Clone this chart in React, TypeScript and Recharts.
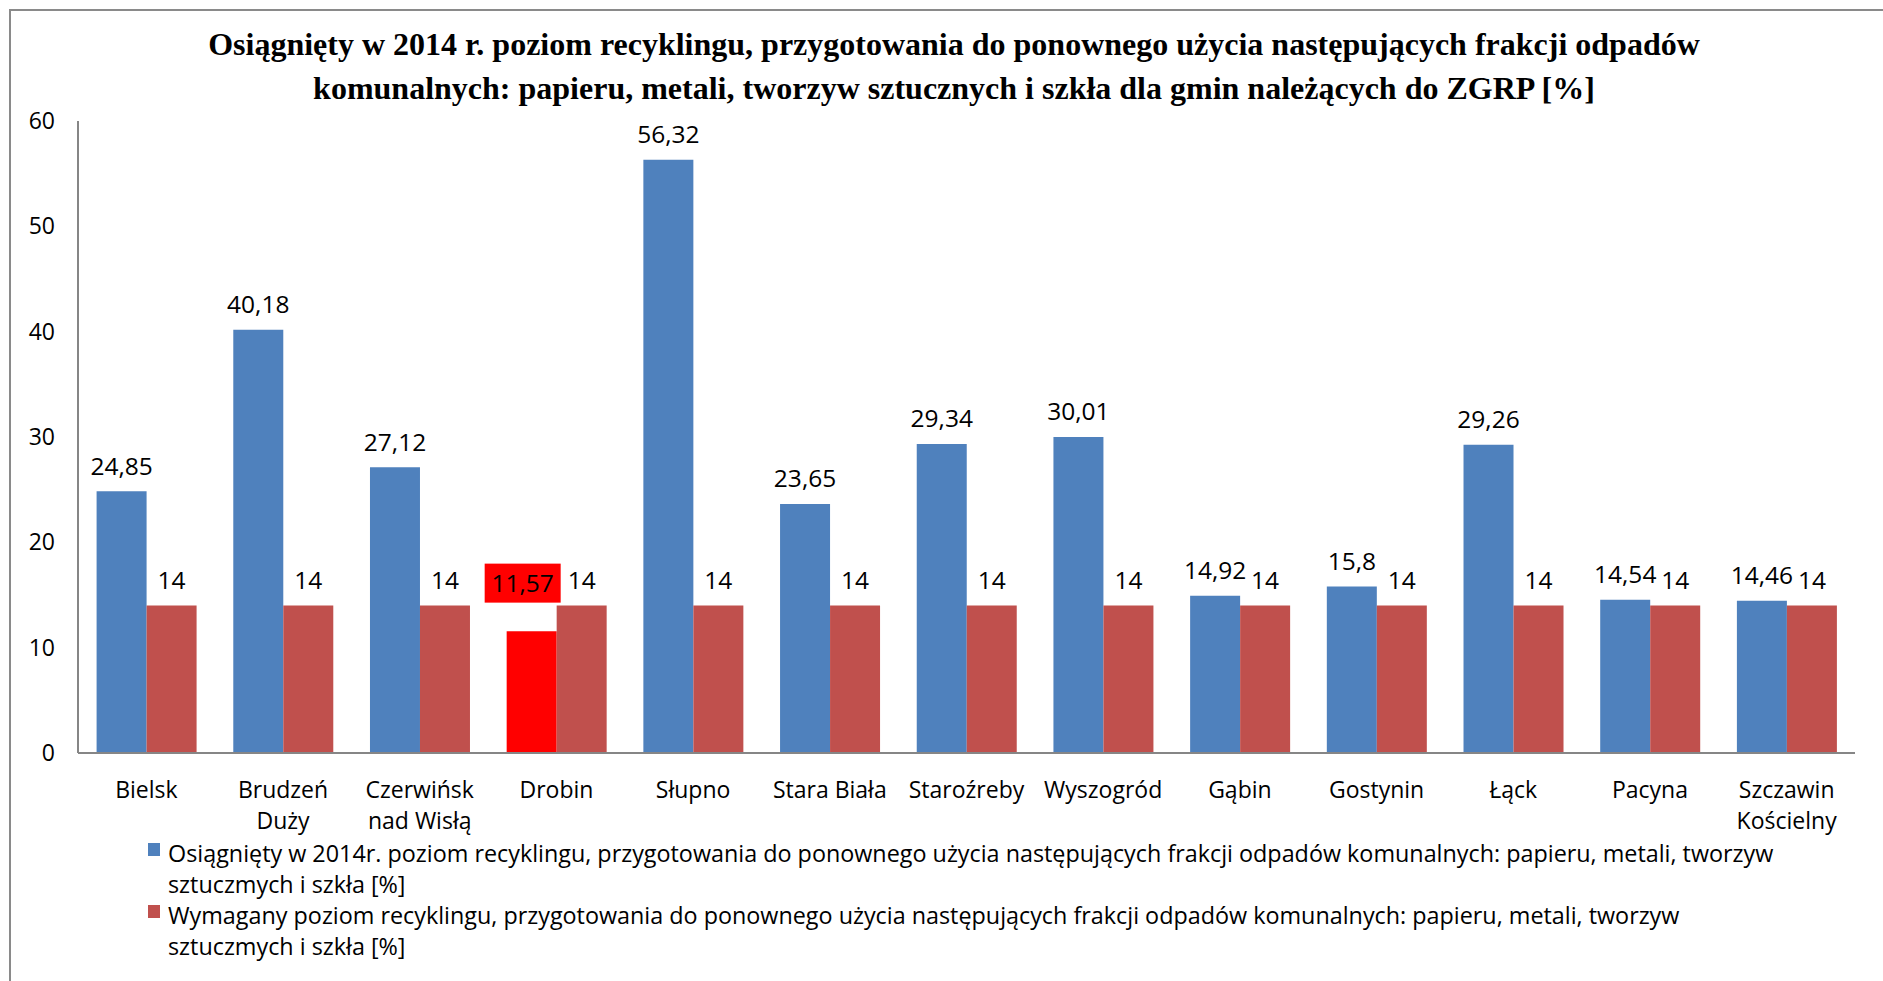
import React from 'react';
import { BarChart, Bar, XAxis, YAxis, Cell, LabelList, Legend } from 'recharts';

const CATEGORIES = [
  'Bielsk', 'Brudzeń Duży', 'Czerwińsk nad Wisłą', 'Drobin', 'Słupno', 'Stara Biała',
  'Staroźreby', 'Wyszogród', 'Gąbin', 'Gostynin', 'Łąck', 'Pacyna', 'Szczawin Kościelny',
];
const TICK_LABELS = [
  ['Bielsk'], ['Brudzeń', 'Duży'], ['Czerwińsk', 'nad Wisłą'], ['Drobin'], ['Słupno'], ['Stara Biała'],
  ['Staroźreby'], ['Wyszogród'], ['Gąbin'], ['Gostynin'], ['Łąck'], ['Pacyna'], ['Szczawin', 'Kościelny'],
];
const ACHIEVED = [24.85, 40.18, 27.12, 11.57, 56.32, 23.65, 29.34, 30.01, 14.92, 15.8, 29.26, 14.54, 14.46];
const REQUIRED = [14, 14, 14, 14, 14, 14, 14, 14, 14, 14, 14, 14, 14];
const Y_TICKS = [0, 10, 20, 30, 40, 50, 60];
const HIGHLIGHT_CATEGORY = 'Drobin';

const TITLE_LINES = [
  'Osiągnięty w 2014 r. poziom recyklingu, przygotowania do ponownego użycia następujących frakcji odpadów',
  'komunalnych: papieru, metali, tworzyw sztucznych i szkła dla gmin należących do ZGRP [%]',
];
const LEGEND_LINES_ACHIEVED = [
  'Osiągnięty w 2014r. poziom recyklingu, przygotowania do ponownego użycia następujących frakcji odpadów komunalnych: papieru, metali, tworzyw',
  'sztuczmych i szkła [%]',
];
const LEGEND_LINES_REQUIRED = [
  'Wymagany poziom recyklingu, przygotowania do ponownego użycia następujących frakcji odpadów komunalnych: papieru, metali, tworzyw',
  'sztuczmych i szkła [%]',
];
const SERIES_ACHIEVED = LEGEND_LINES_ACHIEVED.join(' ');
const SERIES_REQUIRED = LEGEND_LINES_REQUIRED.join(' ');

const BLUE = '#4F81BD';
const RED = '#C0504D';
const HIGHLIGHT = '#FF0000';
const AXIS = '#868686';
const FONT = '"Open Sans", sans-serif';
const FS = 23;
const LABEL_FS = 24.5;
const LEGEND_FS = 23.35;

const data = CATEGORIES.map((c, i) => ({ name: c, achieved: ACHIEVED[i], required: REQUIRED[i] }));

const fmt = (v: number) => String(v).replace('.', ',');

const XTick = (props: any) => {
  const { x, y, payload } = props;
  const idx = CATEGORIES.indexOf(payload.value);
  const lines = TICK_LABELS[idx] || [payload.value];
  return (
    <text x={x} y={y} textAnchor="middle" fontFamily={FONT} fontSize={FS} fill="#000">
      {lines.map((l, i) => (
        <tspan key={i} x={x} y={y + 45 + i * 31}>{l}</tspan>
      ))}
    </text>
  );
};

const AchievedLabel = (props: any) => {
  const { x, y, width, value, index } = props;
  const cx = x + width / 2;
  if (CATEGORIES[index] === HIGHLIGHT_CATEGORY) {
    const cy = y - 48;
    const tx = cx - 9;
    return (
      <g>
        <rect x={tx - 38} y={cy - 19.5} width={76} height={39} fill={HIGHLIGHT} />
        <text x={tx} y={cy + 8.5} textAnchor="middle" fontFamily={FONT} fontSize={LABEL_FS} fill="#000">{fmt(value)}</text>
      </g>
    );
  }
  return (
    <text x={cx} y={y - 25 + 8.5} textAnchor="middle" fontFamily={FONT} fontSize={LABEL_FS} fill="#000">{fmt(value)}</text>
  );
};

const RequiredLabel = (props: any) => {
  const { x, y, width, value } = props;
  return (
    <text x={x + width / 2} y={y - 25 + 8.5} textAnchor="middle" fontFamily={FONT} fontSize={LABEL_FS} fill="#000">{fmt(value)}</text>
  );
};

const LegendContent = () => {
  const entries = [
    { color: BLUE, lines: LEGEND_LINES_ACHIEVED },
    { color: RED, lines: LEGEND_LINES_REQUIRED },
  ];
  return (
    <div style={{ fontFamily: FONT, fontSize: LEGEND_FS, lineHeight: '31px', color: '#000' }}>
      {entries.map((e, i) => (
        <div key={i} style={{ position: 'relative', paddingLeft: 20 }}>
          <div style={{ position: 'absolute', left: 0, top: 5, width: 12, height: 13, background: e.color }} />
          {e.lines.map((l, j) => (
            <div key={j} style={{ whiteSpace: 'nowrap' }}>{l}</div>
          ))}
        </div>
      ))}
    </div>
  );
};

export default function App() {
  return (
    <div style={{ position: 'absolute', left: 0, top: 0, width: 1883, height: 981, background: '#fff', overflow: 'hidden' }}>
      <div style={{ position: 'absolute', left: 9, top: 9, width: 1900, height: 1000, borderLeft: '2px solid #8a8a8a', borderTop: '2px solid #8a8a8a' }} />
      <div style={{ position: 'absolute', left: 0, top: 0 }}>
        <BarChart
          width={1883}
          height={981}
          data={data}
          margin={{ top: 121, right: 28, bottom: 128, left: 0 }}
          barCategoryGap="13.6%"
          barGap={0}
        >
          <XAxis
            dataKey="name"
            interval={0}
            tickLine={false}
            tickSize={0}
            tickMargin={0}
            axisLine={{ stroke: AXIS, strokeWidth: 2 }}
            tick={<XTick />}
            height={100}
          />
          <YAxis
            domain={[0, 60]}
            ticks={Y_TICKS}
            interval={0}
            width={78}
            tickLine={false}
            tickSize={0}
            tickMargin={23}
            axisLine={{ stroke: AXIS, strokeWidth: 2 }}
            tick={{ fontFamily: FONT, fontSize: FS, fill: '#000' }}
          />
          <Legend
            layout="vertical"
            align="center"
            verticalAlign="middle"
            content={<LegendContent />}
            wrapperStyle={{ left: 148, top: 838, width: 1720, height: 130 }}
          />
          <Bar dataKey="achieved" name={SERIES_ACHIEVED} fill={BLUE} isAnimationActive={false}>
            {data.map((d, i) => (
              <Cell key={i} fill={d.name === HIGHLIGHT_CATEGORY ? HIGHLIGHT : BLUE} />
            ))}
            <LabelList dataKey="achieved" content={<AchievedLabel />} />
          </Bar>
          <Bar dataKey="required" name={SERIES_REQUIRED} fill={RED} isAnimationActive={false}>
            <LabelList dataKey="required" content={<RequiredLabel />} />
          </Bar>
        </BarChart>
      </div>
      <div
        style={{
          position: 'absolute', left: 78, top: 22, width: 1752, textAlign: 'center',
          fontFamily: '"Liberation Serif", "Times New Roman", serif', fontWeight: 'bold',
          fontSize: 32, lineHeight: '44px', color: '#000',
        }}
      >
        {TITLE_LINES.map((l, i) => (
          <div key={i} style={{ whiteSpace: 'nowrap' }}>{l}</div>
        ))}
      </div>
    </div>
  );
}
